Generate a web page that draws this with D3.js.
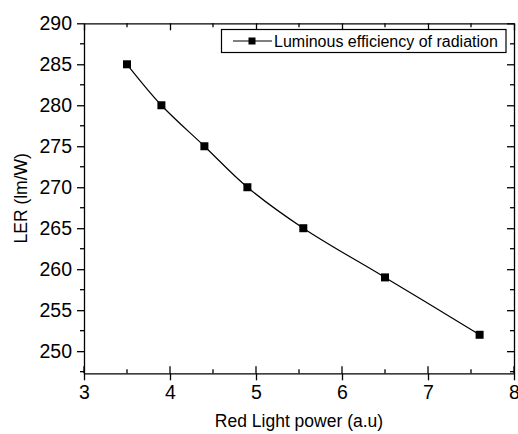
<!DOCTYPE html>
<html>
<head>
<meta charset="utf-8">
<script src="https://cdn.jsdelivr.net/npm/d3@7"></script>
<style>
body{margin:0;background:#fff;}
text{font-family:Arial,"Liberation Sans",sans-serif;fill:#000;}
</style>
</head>
<body>
<script>
var powers = [3.5, 3.9, 4.4, 4.9, 5.55, 6.5, 7.6];
var ler = [285, 280, 275, 270, 265, 259, 252];
var xTicks = [3, 4, 5, 6, 7, 8];
var yTicks = [250, 255, 260, 265, 270, 275, 280, 285, 290];
var seriesName = "Luminous efficiency of radiation";

var W = 518, H = 434;
var m = {left: 84, right: 4, top: 23.3, bottom: 60.7};
var svg = d3.select("body").append("svg").attr("width", W).attr("height", H);

var x = d3.scaleLinear().domain([3, 8]).range([m.left, W - m.right]);
var y = d3.scaleLinear().domain([247.3, 290]).range([H - m.bottom, m.top]);
var x0 = x.range()[0], x1 = x.range()[1], y0 = y.range()[0], y1 = y.range()[1];

var xMinor = d3.range(3.5, 8, 1);
var yMinor = d3.range(247.5, 290, 5);

// left axis, ticks outward
var gl = svg.append("g").attr("transform", "translate(" + x0 + ",0)");
gl.call(d3.axisLeft(y).tickValues(yTicks).tickFormat(d3.format("d")).tickSize(7).tickSizeOuter(0).tickPadding(5));
gl.selectAll(".tick text").style("font-size", "19.5px");
gl.selectAll(".tick line").attr("stroke-width", 1.3);
gl.selectAll("line.minor").data(yMinor).enter().append("line")
  .attr("x1", -4).attr("x2", 0).attr("y1", d => y(d)).attr("y2", d => y(d))
  .attr("stroke", "#000").attr("stroke-width", 1.3);

// bottom axis
var gb = svg.append("g").attr("transform", "translate(0," + y0 + ")");
gb.call(d3.axisBottom(x).tickValues(xTicks).tickFormat(d3.format("d")).tickSize(7).tickSizeOuter(0).tickPadding(5));
gb.selectAll(".tick text").style("font-size", "19.5px");
gb.selectAll(".tick line").attr("stroke-width", 1.3);
gb.selectAll("line.minor").data(xMinor).enter().append("line")
  .attr("y1", -4).attr("y2", 0).attr("x1", d => x(d)).attr("x2", d => x(d))
  .attr("stroke", "#000").attr("stroke-width", 1.3);
gb.selectAll("line.majin").data(xTicks).enter().append("line")
  .attr("y1", -7).attr("y2", 0).attr("x1", d => x(d)).attr("x2", d => x(d))
  .attr("stroke", "#000").attr("stroke-width", 1.3);

// mirror axes, inward ticks
var gt = svg.append("g").attr("transform", "translate(0," + y1 + ")");
gt.call(d3.axisTop(x).tickValues(xTicks).tickSize(-7).tickSizeOuter(0).tickFormat(""));
gt.selectAll("line.minor").data(xMinor).enter().append("line")
  .attr("y1", 0).attr("y2", 4).attr("x1", d => x(d)).attr("x2", d => x(d))
  .attr("stroke", "#000").attr("stroke-width", 1.3);
var gr = svg.append("g").attr("transform", "translate(" + x1 + ",0)");
gr.call(d3.axisRight(y).tickValues(yTicks).tickSize(-7).tickSizeOuter(0).tickFormat(""));
gr.selectAll("line.minor").data(yMinor).enter().append("line")
  .attr("x1", -4).attr("x2", 0).attr("y1", d => y(d)).attr("y2", d => y(d))
  .attr("stroke", "#000").attr("stroke-width", 1.3);
svg.selectAll(".domain").attr("stroke-width", 1.3);
[gt, gr].forEach(g => g.selectAll(".tick line").attr("stroke-width", 1.3));

// titles
svg.append("text").attr("x", (x0 + x1) / 2).attr("y", 427)
  .attr("text-anchor", "middle").style("font-size", "17.5px").text("Red Light power (a.u)");
svg.append("text").attr("transform", "translate(27," + ((y0 + y1) / 2) + ") rotate(-90)")
  .attr("text-anchor", "middle").style("font-size", "17.5px").text("LER (lm/W)");

// series
var pts = powers.map((p, i) => [p, ler[i]]);
var line = d3.line().x(d => x(d[0])).y(d => y(d[1])).curve(d3.curveCatmullRom);
svg.append("path").datum(pts).attr("d", line)
  .attr("fill", "none").attr("stroke", "#000").attr("stroke-width", 1.2);
svg.selectAll("rect.pt").data(pts).enter().append("rect")
  .attr("x", d => x(d[0]) - 4).attr("y", d => y(d[1]) - 4)
  .attr("width", 8).attr("height", 8).attr("fill", "#000");

// legend
var lg = svg.append("g");
lg.append("rect").attr("x", 221.5).attr("y", 29.5).attr("width", 284.5).attr("height", 23)
  .attr("fill", "#fff").attr("stroke", "#000").attr("stroke-width", 1.2);
lg.append("line").attr("x1", 233).attr("x2", 272).attr("y1", 41).attr("y2", 41)
  .attr("stroke", "#000").attr("stroke-width", 1.2);
lg.append("rect").attr("x", 248.5).attr("y", 37.5).attr("width", 7).attr("height", 7).attr("fill", "#000");
lg.append("text").attr("x", 274).attr("y", 47).style("font-size", "16px").text(seriesName);
</script>
</body>
</html>
